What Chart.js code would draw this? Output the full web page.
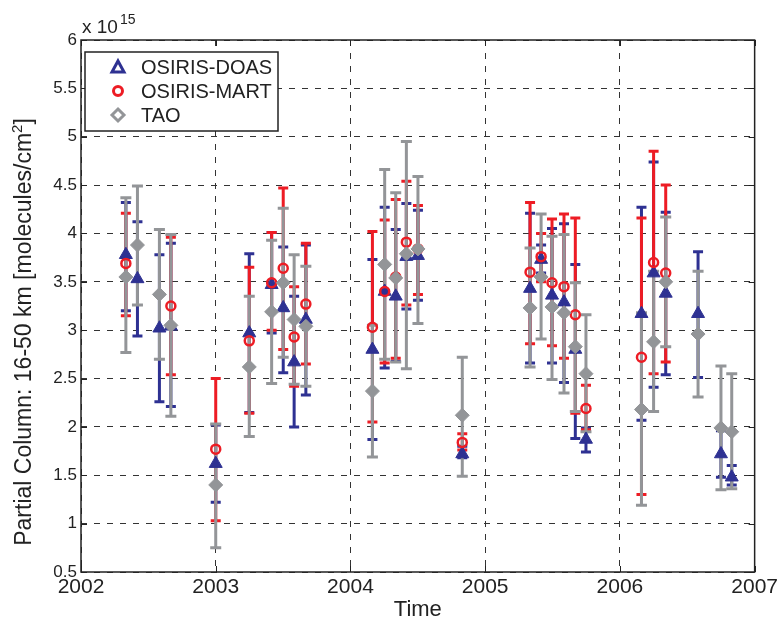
<!DOCTYPE html>
<html>
<head>
<meta charset="utf-8">
<script src="https://cdn.jsdelivr.net/npm/chart.js@4.4.0/dist/chart.umd.min.js"></script>
<style>
html, body { margin: 0; padding: 0; background: #fff; }
</style>
</head>
<body>
<canvas id="c" width="781" height="623"></canvas>
<script>
// Axes
const xTicks = [2002, 2003, 2004, 2005, 2006, 2007];
const yTicks = [0.5, 1, 1.5, 2, 2.5, 3, 3.5, 4, 4.5, 5, 5.5, 6];

// OSIRIS-DOAS (valeur, bas, haut) en 1e15 molec/cm2
const doasT  = [2002.333, 2002.419, 2002.582, 2002.667, 2003.0, 2003.249, 2003.415, 2003.501, 2003.582, 2003.669,
                2004.163, 2004.254, 2004.336, 2004.415, 2004.501, 2004.83, 2005.333, 2005.415, 2005.496, 2005.585,
                2005.669, 2005.748, 2006.16, 2006.25, 2006.34, 2006.58, 2006.75, 2006.83];
const doasV  = [3.78, 3.53, 3.02, 3.04, 1.62, 2.97, 3.47, 3.23, 2.67, 3.11,
                2.80, 3.40, 3.35, 3.76, 3.77, 1.72, 3.43, 3.73, 3.36, 3.29,
                2.80, 1.87, 3.17, 3.59, 3.38, 3.17, 1.72, 1.48];
const doasLo = [3.20, 2.94, 2.26, 2.21, 1.22, 2.15, 2.97, 2.56, 2.00, 2.33,
                1.87, 2.61, 2.68, 3.22, 3.31, 1.68, 2.66, 3.59, 2.66, 2.46,
                1.88, 1.74, 2.07, 2.41, 2.54, 2.51, 1.48, 1.40];
const doasHi = [4.32, 4.12, 3.78, 3.90, 2.02, 3.79, 4.01, 3.86, 3.35, 3.88,
                3.73, 4.27, 4.04, 4.31, 4.24, 1.80, 4.21, 3.88, 4.05, 4.10,
                3.68, 1.99, 4.27, 4.74, 4.22, 3.81, 1.96, 1.60];

// OSIRIS-MART
const martT  = [2002.333, 2002.667, 2003.0, 2003.249, 2003.415, 2003.501, 2003.582, 2003.669,
                2004.163, 2004.254, 2004.336, 2004.415, 2004.501, 2004.83, 2005.333, 2005.415, 2005.496, 2005.585,
                2005.669, 2005.748, 2006.16, 2006.25, 2006.34];
const martV  = [3.69, 3.25, 1.77, 2.89, 3.49, 3.64, 2.93, 3.27,
                3.03, 3.40, 3.55, 3.91, 3.84, 1.84, 3.60, 3.76, 3.49, 3.45,
                3.16, 2.19, 2.72, 3.70, 3.59];
const martLo = [3.15, 2.54, 1.03, 2.14, 3.00, 2.80, 2.42, 2.65,
                2.05, 2.66, 2.71, 3.26, 3.37, 1.76, 2.86, 3.50, 2.84, 2.71,
                2.14, 1.97, 1.30, 2.55, 2.67];
const martHi = [4.21, 3.96, 2.50, 3.65, 4.01, 4.47, 3.45, 3.90,
                4.02, 4.14, 4.35, 4.54, 4.29, 1.93, 4.32, 4.00, 4.15, 4.20,
                4.16, 2.43, 4.16, 4.85, 4.50];

// TAO
const taoT  = doasT;
const taoV  = [3.55, 3.88, 3.37, 3.05, 1.40, 2.62, 3.19, 3.49, 3.11, 3.04,
               2.37, 3.68, 3.54, 3.79, 3.84, 2.12, 3.23, 3.55, 3.24, 3.18,
               2.83, 2.55, 2.18, 2.88, 3.50, 2.96, 1.99, 1.95];
const taoLo = [2.77, 3.26, 2.70, 2.11, 0.75, 1.90, 2.45, 2.72, 2.44, 2.42,
               1.69, 2.70, 2.67, 2.60, 3.07, 1.49, 2.62, 2.91, 2.49, 2.35,
               2.16, 1.95, 1.19, 2.16, 2.83, 2.31, 1.35, 1.36];
const taoHi = [4.37, 4.49, 4.04, 3.99, 2.03, 3.35, 3.93, 4.26, 3.78, 3.66,
               3.05, 4.66, 4.42, 4.95, 4.59, 2.72, 3.85, 4.20, 3.97, 3.99,
               3.49, 3.16, 3.18, 3.61, 4.17, 3.61, 2.63, 2.55];

const BLUE = '#2e3192';
const RED = '#ed1c24';
const GRAY = '#939598';
const FONT = "'Liberation Sans', Arial, Helvetica, sans-serif";

// ordre de tracé des barres : bleu, rouge, gris
const series = [
    { t: doasT, lo: doasLo, hi: doasHi, color: BLUE, cap: 5 },
    { t: martT, lo: martLo, hi: martHi, color: RED, cap: 5 },
    { t: taoT, lo: taoLo, hi: taoHi, color: GRAY, cap: 5.5 }
];

function pts(t, v) {
    return t.map((x, i) => ({ x: x, y: v[i] }));
}

const errorBars = {
    id: 'errorBars',
    beforeDatasetsDraw(chart) {
        const { ctx, scales: { x, y } } = chart;
        series.forEach(s => {
            ctx.save();
            ctx.strokeStyle = s.color;
            ctx.lineWidth = 3;
            s.t.forEach((t, i) => {
                const px = x.getPixelForValue(t);
                const top = y.getPixelForValue(s.hi[i]);
                const bot = y.getPixelForValue(s.lo[i]);
                ctx.beginPath();
                ctx.moveTo(px, top); ctx.lineTo(px, bot);
                ctx.moveTo(px - s.cap, top); ctx.lineTo(px + s.cap, top);
                ctx.moveTo(px - s.cap, bot); ctx.lineTo(px + s.cap, bot);
                ctx.stroke();
            });
            ctx.restore();
        });
    },
    afterDraw(chart) {
        const { ctx, chartArea: a, scales: { x, y } } = chart;
        ctx.save();
        // cadre + petites graduations intérieures
        ctx.strokeStyle = '#222';
        ctx.lineWidth = 1.5;
        ctx.strokeRect(a.left, a.top, a.right - a.left, a.bottom - a.top);
        ctx.lineWidth = 1;
        ctx.beginPath();
        x.ticks.forEach(tk => {
            const px = Math.round(x.getPixelForValue(tk.value)) + 0.5;
            ctx.moveTo(px, a.bottom); ctx.lineTo(px, a.bottom - 6);
            ctx.moveTo(px, a.top); ctx.lineTo(px, a.top + 6);
        });
        y.ticks.forEach(tk => {
            const py = Math.round(y.getPixelForValue(tk.value)) + 0.5;
            ctx.moveTo(a.left, py); ctx.lineTo(a.left + 6, py);
            ctx.moveTo(a.right, py); ctx.lineTo(a.right - 6, py);
        });
        ctx.stroke();

        // x 10^15
        ctx.fillStyle = '#222';
        ctx.textBaseline = 'alphabetic';
        ctx.textAlign = 'left';
        ctx.font = '19px ' + FONT;
        ctx.fillText('x 10', 82, 33);
        ctx.font = '14px ' + FONT;
        ctx.fillText('15', 120, 24);

        // titre de l'axe y, avec exposant
        ctx.save();
        ctx.translate(31, 332);
        ctx.rotate(-Math.PI / 2);
        ctx.font = '23px ' + FONT;
        const main = 'Partial Column: 16-50 km [molecules/cm';
        const wMain = ctx.measureText(main).width;
        ctx.font = '15px ' + FONT;
        const wSup = ctx.measureText('2').width;
        ctx.font = '23px ' + FONT;
        const wEnd = ctx.measureText(']').width;
        let sx = -(wMain + wSup + wEnd) / 2;
        ctx.fillText(main, sx, 0);
        sx += wMain;
        ctx.font = '15px ' + FONT;
        ctx.fillText('2', sx, -9);
        sx += wSup;
        ctx.font = '23px ' + FONT;
        ctx.fillText(']', sx, 0);
        ctx.restore();

        // légende
        const lx = 85, ly = 52, lw = 193, lh = 79;
        ctx.fillStyle = '#fff';
        ctx.fillRect(lx, ly, lw, lh);
        ctx.strokeStyle = '#222';
        ctx.lineWidth = 1.5;
        ctx.strokeRect(lx, ly, lw, lh);
        const items = [
            { label: 'OSIRIS-DOAS', color: BLUE, shape: 'tri', y: 67 },
            { label: 'OSIRIS-MART', color: RED, shape: 'circ', y: 91 },
            { label: 'TAO', color: GRAY, shape: 'dia', y: 115 }
        ];
        items.forEach(it => {
            const mx = 118, my = it.y;
            ctx.strokeStyle = it.color;
            ctx.lineWidth = 3;
            ctx.beginPath();
            if (it.shape === 'tri') {
                ctx.moveTo(mx, my - 6); ctx.lineTo(mx + 6, my + 5); ctx.lineTo(mx - 6, my + 5); ctx.closePath();
            } else if (it.shape === 'circ') {
                ctx.arc(mx, my, 4.5, 0, Math.PI * 2);
            } else {
                ctx.moveTo(mx, my - 6); ctx.lineTo(mx + 6, my); ctx.lineTo(mx, my + 6); ctx.lineTo(mx - 6, my); ctx.closePath();
            }
            ctx.stroke();
            ctx.fillStyle = '#222';
            ctx.font = '20px ' + FONT;
            ctx.textBaseline = 'middle';
            ctx.fillText(it.label, 141, my + 1);
        });
        ctx.restore();
    }
};

const chart = new Chart(document.getElementById('c'), {
    type: 'scatter',
    data: {
        datasets: [
            { label: 'TAO', data: pts(taoT, taoV), pointStyle: 'rectRot', pointRadius: 7,
              backgroundColor: GRAY, borderColor: GRAY, borderWidth: 1 },
            { label: 'OSIRIS-MART', data: pts(martT, martV), pointStyle: 'circle', pointRadius: 4.5,
              backgroundColor: 'rgba(0,0,0,0)', borderColor: RED, borderWidth: 2.5 },
            { label: 'OSIRIS-DOAS', data: pts(doasT, doasV), pointStyle: 'triangle', pointRadius: 7.5,
              backgroundColor: BLUE, borderColor: BLUE, borderWidth: 1 }
        ]
    },
    options: {
        responsive: false,
        animation: false,
        events: [],
        layout: { padding: { left: 0, top: 40, right: 25, bottom: 0 } },
        plugins: { legend: { display: false }, tooltip: { enabled: false } },
        scales: {
            x: {
                type: 'linear',
                min: 2002, max: 2007,
                afterFit(s) { s.height = 51; },
                afterBuildTicks(s) { s.ticks = xTicks.map(v => ({ value: v })); },
                ticks: {
                    stepSize: 1,
                    padding: 3,
                    color: '#222',
                    font: { family: FONT, size: 21 },
                    callback: v => String(v)
                },
                grid: { color: '#333', lineWidth: 1, drawTicks: false },
                border: { display: false, dash: [6, 7] },
                title: {
                    display: true, text: 'Time', color: '#222',
                    font: { family: FONT, size: 22 },
                    padding: { top: 0, bottom: 0 }
                }
            },
            y: {
                min: 0.5, max: 6,
                afterFit(s) { s.width = 81; },
                afterBuildTicks(s) { s.ticks = yTicks.map(v => ({ value: v })); },
                ticks: {
                    stepSize: 0.5,
                    padding: 4,
                    color: '#222',
                    font: { family: FONT, size: 17 },
                    callback: v => String(v)
                },
                grid: { color: '#333', lineWidth: 1, drawTicks: false },
                border: { display: false, dash: [6, 7] }
            }
        }
    },
    plugins: [errorBars]
});
</script>
</body>
</html>
